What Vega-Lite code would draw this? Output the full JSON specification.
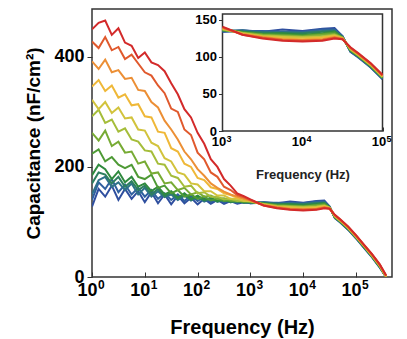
{
"$schema":"https://vega.github.io/schema/vega-lite/v6.json",
"width":300,"height":268,
"autosize":{"type":"none"},
"padding":{"left":92,"top":9,"right":15,"bottom":62},
"background":"white",
"config":{"view":{"stroke":"#333","strokeWidth":1.5},"font":"Liberation Sans","axis":{"labelFont":"Liberation Sans","titleFont":"Liberation Sans"}},
"datasets":{"d":[
{"s":"s00","f":1,"c":128},{"s":"s00","f":1.334,"c":160},{"s":"s00","f":1.778,"c":146},{"s":"s00","f":2.371,"c":166},{"s":"s00","f":3.162,"c":140},{"s":"s00","f":4.217,"c":160},{"s":"s00","f":5.623,"c":142},{"s":"s00","f":7.499,"c":156},{"s":"s00","f":10,"c":136},{"s":"s00","f":13.34,"c":154},{"s":"s00","f":17.78,"c":134},{"s":"s00","f":23.71,"c":150},{"s":"s00","f":31.62,"c":132},{"s":"s00","f":42.17,"c":148},{"s":"s00","f":56.23,"c":134},{"s":"s00","f":74.99,"c":144},{"s":"s00","f":100,"c":132},{"s":"s00","f":133.4,"c":142},{"s":"s00","f":177.8,"c":133},{"s":"s00","f":237.1,"c":140},{"s":"s00","f":316.2,"c":133},{"s":"s00","f":421.7,"c":138},{"s":"s00","f":562.3,"c":133},{"s":"s00","f":749.9,"c":136},{"s":"s00","f":1000,"c":134},{"s":"s00","f":1778,"c":136},{"s":"s00","f":3162,"c":134},{"s":"s00","f":5623,"c":137},{"s":"s00","f":10000,"c":135},{"s":"s00","f":17783,"c":138},{"s":"s00","f":25119,"c":139},{"s":"s00","f":31623,"c":128},{"s":"s00","f":39811,"c":107},{"s":"s00","f":50119,"c":99},{"s":"s00","f":70795,"c":86},{"s":"s00","f":100000,"c":70},{"s":"s00","f":141254,"c":53},{"s":"s00","f":199526,"c":36},{"s":"s00","f":281838,"c":17},{"s":"s00","f":371535,"c":0},
{"s":"s01","f":1,"c":140},{"s":"s01","f":1.334,"c":172},{"s":"s01","f":1.778,"c":160},{"s":"s01","f":2.371,"c":178},{"s":"s01","f":3.162,"c":154},{"s":"s01","f":4.217,"c":168},{"s":"s01","f":5.623,"c":150},{"s":"s01","f":7.499,"c":162},{"s":"s01","f":10,"c":146},{"s":"s01","f":13.34,"c":158},{"s":"s01","f":17.78,"c":142},{"s":"s01","f":23.71,"c":152},{"s":"s01","f":31.62,"c":140},{"s":"s01","f":42.17,"c":150},{"s":"s01","f":56.23,"c":138},{"s":"s01","f":74.99,"c":148},{"s":"s01","f":100,"c":138},{"s":"s01","f":133.4,"c":146},{"s":"s01","f":177.8,"c":136},{"s":"s01","f":237.1,"c":143},{"s":"s01","f":316.2,"c":135},{"s":"s01","f":421.7,"c":141},{"s":"s01","f":562.3,"c":134},{"s":"s01","f":749.9,"c":139},{"s":"s01","f":1000,"c":134},{"s":"s01","f":1778,"c":135},{"s":"s01","f":3162,"c":135},{"s":"s01","f":5623,"c":134},{"s":"s01","f":10000,"c":134},{"s":"s01","f":17783,"c":137},{"s":"s01","f":25119,"c":137},{"s":"s01","f":31623,"c":128},{"s":"s01","f":39811,"c":107},{"s":"s01","f":50119,"c":100},{"s":"s01","f":70795,"c":86},{"s":"s01","f":100000,"c":71},{"s":"s01","f":141254,"c":54},{"s":"s01","f":199526,"c":37},{"s":"s01","f":281838,"c":18},{"s":"s01","f":371535,"c":0},
{"s":"s02","f":1,"c":150},{"s":"s02","f":1.334,"c":176},{"s":"s02","f":1.778,"c":182},{"s":"s02","f":2.371,"c":164},{"s":"s02","f":3.162,"c":172},{"s":"s02","f":4.217,"c":158},{"s":"s02","f":5.623,"c":170},{"s":"s02","f":7.499,"c":150},{"s":"s02","f":10,"c":162},{"s":"s02","f":13.34,"c":146},{"s":"s02","f":17.78,"c":156},{"s":"s02","f":23.71,"c":145},{"s":"s02","f":31.62,"c":150},{"s":"s02","f":42.17,"c":140},{"s":"s02","f":56.23,"c":148},{"s":"s02","f":74.99,"c":139},{"s":"s02","f":100,"c":145},{"s":"s02","f":133.4,"c":137},{"s":"s02","f":177.8,"c":142},{"s":"s02","f":237.1,"c":137},{"s":"s02","f":316.2,"c":140},{"s":"s02","f":421.7,"c":136},{"s":"s02","f":562.3,"c":138},{"s":"s02","f":749.9,"c":135},{"s":"s02","f":1000,"c":135},{"s":"s02","f":1778,"c":136},{"s":"s02","f":3162,"c":133},{"s":"s02","f":5623,"c":134},{"s":"s02","f":10000,"c":133},{"s":"s02","f":17783,"c":135},{"s":"s02","f":25119,"c":136},{"s":"s02","f":31623,"c":127},{"s":"s02","f":39811,"c":108},{"s":"s02","f":50119,"c":100},{"s":"s02","f":70795,"c":87},{"s":"s02","f":100000,"c":71},{"s":"s02","f":141254,"c":54},{"s":"s02","f":199526,"c":37},{"s":"s02","f":281838,"c":18},{"s":"s02","f":371535,"c":0},
{"s":"s03","f":1,"c":170},{"s":"s03","f":1.334,"c":190},{"s":"s03","f":1.778,"c":186},{"s":"s03","f":2.371,"c":170},{"s":"s03","f":3.162,"c":182},{"s":"s03","f":4.217,"c":164},{"s":"s03","f":5.623,"c":174},{"s":"s03","f":7.499,"c":158},{"s":"s03","f":10,"c":166},{"s":"s03","f":13.34,"c":150},{"s":"s03","f":17.78,"c":160},{"s":"s03","f":23.71,"c":146},{"s":"s03","f":31.62,"c":154},{"s":"s03","f":42.17,"c":142},{"s":"s03","f":56.23,"c":150},{"s":"s03","f":74.99,"c":140},{"s":"s03","f":100,"c":147},{"s":"s03","f":133.4,"c":139},{"s":"s03","f":177.8,"c":143},{"s":"s03","f":237.1,"c":137},{"s":"s03","f":316.2,"c":141},{"s":"s03","f":421.7,"c":136},{"s":"s03","f":562.3,"c":138},{"s":"s03","f":749.9,"c":135},{"s":"s03","f":1000,"c":137},{"s":"s03","f":1778,"c":134},{"s":"s03","f":3162,"c":133},{"s":"s03","f":5623,"c":132},{"s":"s03","f":10000,"c":132},{"s":"s03","f":17783,"c":134},{"s":"s03","f":25119,"c":135},{"s":"s03","f":31623,"c":127},{"s":"s03","f":39811,"c":108},{"s":"s03","f":50119,"c":101},{"s":"s03","f":70795,"c":87},{"s":"s03","f":100000,"c":72},{"s":"s03","f":141254,"c":55},{"s":"s03","f":199526,"c":38},{"s":"s03","f":281838,"c":19},{"s":"s03","f":371535,"c":0},
{"s":"s04","f":1,"c":185},{"s":"s04","f":1.334,"c":204},{"s":"s04","f":1.778,"c":196},{"s":"s04","f":2.371,"c":178},{"s":"s04","f":3.162,"c":192},{"s":"s04","f":4.217,"c":172},{"s":"s04","f":5.623,"c":182},{"s":"s04","f":7.499,"c":164},{"s":"s04","f":10,"c":170},{"s":"s04","f":13.34,"c":156},{"s":"s04","f":17.78,"c":164},{"s":"s04","f":23.71,"c":150},{"s":"s04","f":31.62,"c":156},{"s":"s04","f":42.17,"c":144},{"s":"s04","f":56.23,"c":152},{"s":"s04","f":74.99,"c":142},{"s":"s04","f":100,"c":148},{"s":"s04","f":133.4,"c":140},{"s":"s04","f":177.8,"c":144},{"s":"s04","f":237.1,"c":138},{"s":"s04","f":316.2,"c":141},{"s":"s04","f":421.7,"c":137},{"s":"s04","f":562.3,"c":138},{"s":"s04","f":749.9,"c":136},{"s":"s04","f":1000,"c":136},{"s":"s04","f":1778,"c":134},{"s":"s04","f":3162,"c":131},{"s":"s04","f":5623,"c":132},{"s":"s04","f":10000,"c":130},{"s":"s04","f":17783,"c":132},{"s":"s04","f":25119,"c":134},{"s":"s04","f":31623,"c":126},{"s":"s04","f":39811,"c":109},{"s":"s04","f":50119,"c":101},{"s":"s04","f":70795,"c":88},{"s":"s04","f":100000,"c":72},{"s":"s04","f":141254,"c":55},{"s":"s04","f":199526,"c":38},{"s":"s04","f":281838,"c":19},{"s":"s04","f":371535,"c":0},
{"s":"s05","f":1,"c":224},{"s":"s05","f":1.334,"c":232},{"s":"s05","f":1.778,"c":210},{"s":"s05","f":2.371,"c":218},{"s":"s05","f":3.162,"c":204},{"s":"s05","f":4.217,"c":198},{"s":"s05","f":5.623,"c":204},{"s":"s05","f":7.499,"c":182},{"s":"s05","f":10,"c":178},{"s":"s05","f":13.34,"c":186},{"s":"s05","f":17.78,"c":162},{"s":"s05","f":23.71,"c":166},{"s":"s05","f":31.62,"c":152},{"s":"s05","f":42.17,"c":158},{"s":"s05","f":56.23,"c":146},{"s":"s05","f":74.99,"c":150},{"s":"s05","f":100,"c":142},{"s":"s05","f":133.4,"c":146},{"s":"s05","f":177.8,"c":139},{"s":"s05","f":237.1,"c":142},{"s":"s05","f":316.2,"c":138},{"s":"s05","f":421.7,"c":139},{"s":"s05","f":562.3,"c":137},{"s":"s05","f":749.9,"c":138},{"s":"s05","f":1000,"c":136},{"s":"s05","f":1778,"c":133},{"s":"s05","f":3162,"c":131},{"s":"s05","f":5623,"c":130},{"s":"s05","f":10000,"c":129},{"s":"s05","f":17783,"c":131},{"s":"s05","f":25119,"c":133},{"s":"s05","f":31623,"c":126},{"s":"s05","f":39811,"c":109},{"s":"s05","f":50119,"c":101},{"s":"s05","f":70795,"c":88},{"s":"s05","f":100000,"c":72},{"s":"s05","f":141254,"c":56},{"s":"s05","f":199526,"c":38},{"s":"s05","f":281838,"c":19},{"s":"s05","f":371535,"c":0},
{"s":"s06","f":1,"c":262},{"s":"s06","f":1.334,"c":248},{"s":"s06","f":1.778,"c":266},{"s":"s06","f":2.371,"c":238},{"s":"s06","f":3.162,"c":246},{"s":"s06","f":4.217,"c":226},{"s":"s06","f":5.623,"c":228},{"s":"s06","f":7.499,"c":206},{"s":"s06","f":10,"c":210},{"s":"s06","f":13.34,"c":188},{"s":"s06","f":17.78,"c":190},{"s":"s06","f":23.71,"c":170},{"s":"s06","f":31.62,"c":172},{"s":"s06","f":42.17,"c":158},{"s":"s06","f":56.23,"c":162},{"s":"s06","f":74.99,"c":150},{"s":"s06","f":100,"c":154},{"s":"s06","f":133.4,"c":146},{"s":"s06","f":177.8,"c":148},{"s":"s06","f":237.1,"c":142},{"s":"s06","f":316.2,"c":143},{"s":"s06","f":421.7,"c":139},{"s":"s06","f":562.3,"c":139},{"s":"s06","f":749.9,"c":137},{"s":"s06","f":1000,"c":137},{"s":"s06","f":1778,"c":133},{"s":"s06","f":3162,"c":130},{"s":"s06","f":5623,"c":129},{"s":"s06","f":10000,"c":128},{"s":"s06","f":17783,"c":130},{"s":"s06","f":25119,"c":131},{"s":"s06","f":31623,"c":126},{"s":"s06","f":39811,"c":110},{"s":"s06","f":50119,"c":102},{"s":"s06","f":70795,"c":89},{"s":"s06","f":100000,"c":73},{"s":"s06","f":141254,"c":56},{"s":"s06","f":199526,"c":39},{"s":"s06","f":281838,"c":20},{"s":"s06","f":371535,"c":0},
{"s":"s07","f":1,"c":292},{"s":"s07","f":1.334,"c":304},{"s":"s07","f":1.778,"c":280},{"s":"s07","f":2.371,"c":286},{"s":"s07","f":3.162,"c":264},{"s":"s07","f":4.217,"c":270},{"s":"s07","f":5.623,"c":250},{"s":"s07","f":7.499,"c":246},{"s":"s07","f":10,"c":230},{"s":"s07","f":13.34,"c":228},{"s":"s07","f":17.78,"c":206},{"s":"s07","f":23.71,"c":204},{"s":"s07","f":31.62,"c":184},{"s":"s07","f":42.17,"c":180},{"s":"s07","f":56.23,"c":164},{"s":"s07","f":74.99,"c":166},{"s":"s07","f":100,"c":152},{"s":"s07","f":133.4,"c":154},{"s":"s07","f":177.8,"c":146},{"s":"s07","f":237.1,"c":146},{"s":"s07","f":316.2,"c":141},{"s":"s07","f":421.7,"c":142},{"s":"s07","f":562.3,"c":138},{"s":"s07","f":749.9,"c":139},{"s":"s07","f":1000,"c":137},{"s":"s07","f":1778,"c":132},{"s":"s07","f":3162,"c":129},{"s":"s07","f":5623,"c":128},{"s":"s07","f":10000,"c":127},{"s":"s07","f":17783,"c":128},{"s":"s07","f":25119,"c":130},{"s":"s07","f":31623,"c":126},{"s":"s07","f":39811,"c":110},{"s":"s07","f":50119,"c":102},{"s":"s07","f":70795,"c":89},{"s":"s07","f":100000,"c":73},{"s":"s07","f":141254,"c":57},{"s":"s07","f":199526,"c":39},{"s":"s07","f":281838,"c":20},{"s":"s07","f":371535,"c":0},
{"s":"s08","f":1,"c":322},{"s":"s08","f":1.334,"c":305},{"s":"s08","f":1.778,"c":318},{"s":"s08","f":2.371,"c":298},{"s":"s08","f":3.162,"c":308},{"s":"s08","f":4.217,"c":288},{"s":"s08","f":5.623,"c":290},{"s":"s08","f":7.499,"c":268},{"s":"s08","f":10,"c":266},{"s":"s08","f":13.34,"c":244},{"s":"s08","f":17.78,"c":238},{"s":"s08","f":23.71,"c":216},{"s":"s08","f":31.62,"c":210},{"s":"s08","f":42.17,"c":190},{"s":"s08","f":56.23,"c":186},{"s":"s08","f":74.99,"c":170},{"s":"s08","f":100,"c":168},{"s":"s08","f":133.4,"c":156},{"s":"s08","f":177.8,"c":156},{"s":"s08","f":237.1,"c":148},{"s":"s08","f":316.2,"c":148},{"s":"s08","f":421.7,"c":142},{"s":"s08","f":562.3,"c":142},{"s":"s08","f":749.9,"c":138},{"s":"s08","f":1000,"c":138},{"s":"s08","f":1778,"c":132},{"s":"s08","f":3162,"c":128},{"s":"s08","f":5623,"c":127},{"s":"s08","f":10000,"c":126},{"s":"s08","f":17783,"c":127},{"s":"s08","f":25119,"c":129},{"s":"s08","f":31623,"c":125},{"s":"s08","f":39811,"c":111},{"s":"s08","f":50119,"c":103},{"s":"s08","f":70795,"c":90},{"s":"s08","f":100000,"c":74},{"s":"s08","f":141254,"c":57},{"s":"s08","f":199526,"c":40},{"s":"s08","f":281838,"c":21},{"s":"s08","f":371535,"c":1},
{"s":"s09","f":1,"c":346},{"s":"s09","f":1.334,"c":358},{"s":"s09","f":1.778,"c":338},{"s":"s09","f":2.371,"c":348},{"s":"s09","f":3.162,"c":326},{"s":"s09","f":4.217,"c":332},{"s":"s09","f":5.623,"c":312},{"s":"s09","f":7.499,"c":314},{"s":"s09","f":10,"c":292},{"s":"s09","f":13.34,"c":290},{"s":"s09","f":17.78,"c":264},{"s":"s09","f":23.71,"c":262},{"s":"s09","f":31.62,"c":234},{"s":"s09","f":42.17,"c":228},{"s":"s09","f":56.23,"c":206},{"s":"s09","f":74.99,"c":200},{"s":"s09","f":100,"c":180},{"s":"s09","f":133.4,"c":176},{"s":"s09","f":177.8,"c":163},{"s":"s09","f":237.1,"c":160},{"s":"s09","f":316.2,"c":152},{"s":"s09","f":421.7,"c":149},{"s":"s09","f":562.3,"c":144},{"s":"s09","f":749.9,"c":142},{"s":"s09","f":1000,"c":139},{"s":"s09","f":1778,"c":131},{"s":"s09","f":3162,"c":127},{"s":"s09","f":5623,"c":125},{"s":"s09","f":10000,"c":124},{"s":"s09","f":17783,"c":126},{"s":"s09","f":25119,"c":128},{"s":"s09","f":31623,"c":125},{"s":"s09","f":39811,"c":111},{"s":"s09","f":50119,"c":103},{"s":"s09","f":70795,"c":90},{"s":"s09","f":100000,"c":74},{"s":"s09","f":141254,"c":57},{"s":"s09","f":199526,"c":40},{"s":"s09","f":281838,"c":21},{"s":"s09","f":371535,"c":1},
{"s":"s10","f":1,"c":392},{"s":"s10","f":1.334,"c":378},{"s":"s10","f":1.778,"c":395},{"s":"s10","f":2.371,"c":372},{"s":"s10","f":3.162,"c":376},{"s":"s10","f":4.217,"c":360},{"s":"s10","f":5.623,"c":362},{"s":"s10","f":7.499,"c":340},{"s":"s10","f":10,"c":338},{"s":"s10","f":13.34,"c":318},{"s":"s10","f":17.78,"c":308},{"s":"s10","f":23.71,"c":284},{"s":"s10","f":31.62,"c":268},{"s":"s10","f":42.17,"c":250},{"s":"s10","f":56.23,"c":228},{"s":"s10","f":74.99,"c":214},{"s":"s10","f":100,"c":196},{"s":"s10","f":133.4,"c":184},{"s":"s10","f":177.8,"c":170},{"s":"s10","f":237.1,"c":162},{"s":"s10","f":316.2,"c":155},{"s":"s10","f":421.7,"c":150},{"s":"s10","f":562.3,"c":146},{"s":"s10","f":749.9,"c":142},{"s":"s10","f":1000,"c":139},{"s":"s10","f":1778,"c":131},{"s":"s10","f":3162,"c":127},{"s":"s10","f":5623,"c":124},{"s":"s10","f":10000,"c":123},{"s":"s10","f":17783,"c":124},{"s":"s10","f":25119,"c":127},{"s":"s10","f":31623,"c":125},{"s":"s10","f":39811,"c":112},{"s":"s10","f":50119,"c":104},{"s":"s10","f":70795,"c":91},{"s":"s10","f":100000,"c":75},{"s":"s10","f":141254,"c":58},{"s":"s10","f":199526,"c":41},{"s":"s10","f":281838,"c":22},{"s":"s10","f":371535,"c":2},
{"s":"s11","f":1,"c":428},{"s":"s11","f":1.334,"c":416},{"s":"s11","f":1.778,"c":436},{"s":"s11","f":2.371,"c":412},{"s":"s11","f":3.162,"c":418},{"s":"s11","f":4.217,"c":396},{"s":"s11","f":5.623,"c":404},{"s":"s11","f":7.499,"c":388},{"s":"s11","f":10,"c":372},{"s":"s11","f":13.34,"c":366},{"s":"s11","f":17.78,"c":348},{"s":"s11","f":23.71,"c":334},{"s":"s11","f":31.62,"c":306},{"s":"s11","f":42.17,"c":300},{"s":"s11","f":56.23,"c":268},{"s":"s11","f":74.99,"c":258},{"s":"s11","f":100,"c":226},{"s":"s11","f":133.4,"c":214},{"s":"s11","f":177.8,"c":190},{"s":"s11","f":237.1,"c":182},{"s":"s11","f":316.2,"c":164},{"s":"s11","f":421.7,"c":158},{"s":"s11","f":562.3,"c":149},{"s":"s11","f":749.9,"c":145},{"s":"s11","f":1000,"c":140},{"s":"s11","f":1778,"c":130},{"s":"s11","f":3162,"c":126},{"s":"s11","f":5623,"c":123},{"s":"s11","f":10000,"c":122},{"s":"s11","f":17783,"c":123},{"s":"s11","f":25119,"c":126},{"s":"s11","f":31623,"c":124},{"s":"s11","f":39811,"c":112},{"s":"s11","f":50119,"c":104},{"s":"s11","f":70795,"c":91},{"s":"s11","f":100000,"c":75},{"s":"s11","f":141254,"c":58},{"s":"s11","f":199526,"c":41},{"s":"s11","f":281838,"c":22},{"s":"s11","f":371535,"c":2},
{"s":"s12","f":1,"c":450},{"s":"s12","f":1.334,"c":462},{"s":"s12","f":1.778,"c":466},{"s":"s12","f":2.371,"c":440},{"s":"s12","f":3.162,"c":452},{"s":"s12","f":4.217,"c":426},{"s":"s12","f":5.623,"c":420},{"s":"s12","f":7.499,"c":398},{"s":"s12","f":10,"c":408},{"s":"s12","f":13.34,"c":390},{"s":"s12","f":17.78,"c":385},{"s":"s12","f":23.71,"c":374},{"s":"s12","f":31.62,"c":352},{"s":"s12","f":42.17,"c":332},{"s":"s12","f":56.23,"c":305},{"s":"s12","f":74.99,"c":290},{"s":"s12","f":100,"c":262},{"s":"s12","f":133.4,"c":242},{"s":"s12","f":177.8,"c":214},{"s":"s12","f":237.1,"c":200},{"s":"s12","f":316.2,"c":178},{"s":"s12","f":421.7,"c":166},{"s":"s12","f":562.3,"c":152},{"s":"s12","f":749.9,"c":147},{"s":"s12","f":1000,"c":141},{"s":"s12","f":1778,"c":130},{"s":"s12","f":3162,"c":125},{"s":"s12","f":5623,"c":122},{"s":"s12","f":10000,"c":121},{"s":"s12","f":17783,"c":122},{"s":"s12","f":25119,"c":125},{"s":"s12","f":31623,"c":124},{"s":"s12","f":39811,"c":113},{"s":"s12","f":50119,"c":105},{"s":"s12","f":70795,"c":92},{"s":"s12","f":100000,"c":76},{"s":"s12","f":141254,"c":59},{"s":"s12","f":199526,"c":42},{"s":"s12","f":281838,"c":23},{"s":"s12","f":371535,"c":3}
],
"box":[{"x1":1000,"x2":100000,"y1":0,"y2":158}],
"ex":[{"t":1,"e":"0"},{"t":10,"e":"1"},{"t":100,"e":"2"},{"t":1000,"e":"3"},{"t":10000,"e":"4"},{"t":100000,"e":"5"}],
"exi":[{"t":1000,"e":"3"},{"t":10000,"e":"4"},{"t":100000,"e":"5"}]},
"layer":[
{"layer":[
 {"data":{"name":"d"},
  "mark":{"type":"line","strokeWidth":2,"clip":true},
  "encoding":{
   "x":{"field":"f","type":"quantitative","scale":{"type":"log","domain":[1,480000],"nice":false},
    "axis":{"values":[1,10,100,1000,10000,100000],"labelExpr":"'10'","labelOffset":-5,"title":"Frequency (Hz)","grid":false,"domain":false,"tickSize":-5,"tickColor":"#333","labelFontSize":18,"labelFontWeight":"bold","labelPadding":9,"labelColor":"black","labelFlush":false,"labelOverlap":false,"titleFontSize":20,"titleFontWeight":"bold","titlePadding":18,"titleColor":"black"}},
   "y":{"field":"c","type":"quantitative","scale":{"domain":[0,487],"nice":false},
    "axis":{"values":[0,200,400],"title":"Capacitance (nF/cm²)","grid":false,"domain":false,"tickSize":5,"tickColor":"#333","labelFontSize":18,"labelFontWeight":"bold","labelPadding":3,"labelColor":"black","labelOverlap":false,"titleFontSize":19,"titleFontWeight":"bold","titlePadding":10,"titleColor":"black"}},
   "color":{"field":"s","type":"nominal","legend":null,"scale":{"domain":["s00","s01","s02","s03","s04","s05","s06","s07","s08","s09","s10","s11","s12"],"range":["#2f4f9f","#2f5fa0","#2e7189","#2d7f5f","#2f8a3e","#4e9a35","#77ab34","#a5bd3a","#d2c33c","#efb838","#ec8f35","#e0592d","#d32a2a"]}}
  }},
 {"data":{"name":"ex"},
  "mark":{"type":"text","fontSize":12,"fontWeight":"bold","align":"left","baseline":"top","dx":6,"dy":3,"color":"black","font":"Liberation Sans"},
  "encoding":{
   "x":{"field":"t","type":"quantitative"},
   "y":{"datum":0,"type":"quantitative"},
   "text":{"field":"e"}
  }}
]},
{"layer":[
 {"data":{"name":"box"},
  "mark":{"type":"rect","fill":"white","stroke":"#333","strokeWidth":1.5},
  "encoding":{
   "x":{"field":"x1","type":"quantitative","scale":{"type":"log","domain":[1000,100000],"range":[130.5,290.5],"nice":false},
    "axis":{"values":[1000,10000,100000],"orient":"bottom","offset":-146,"labelExpr":"'10'","labelOffset":-4,"title":"Frequency (Hz)","grid":false,"domain":false,"tickSize":-4,"tickColor":"#333","labelFontSize":13,"labelFontWeight":"bold","labelPadding":8,"labelColor":"black","labelFlush":false,"labelOverlap":false,"titleFontSize":13,"titleFontWeight":"bold","titlePadding":20,"titleColor":"#222"}},
   "x2":{"field":"x2"},
   "y":{"field":"y1","type":"quantitative","scale":{"domain":[0,158],"range":[122,5],"nice":false,"zero":false},
    "axis":{"values":[0,50,100,150],"orient":"left","offset":-130.5,"title":null,"grid":false,"domain":false,"tickSize":4,"tickColor":"#333","labelFontSize":13,"labelFontWeight":"bold","labelPadding":2,"labelColor":"black","labelOverlap":false}},
   "y2":{"field":"y2"}
  }},
 {"data":{"name":"d"},
  "transform":[{"filter":{"field":"f","range":[1000,100000]}}],
  "mark":{"type":"line","strokeWidth":2},
  "encoding":{
   "x":{"field":"f","type":"quantitative"},
   "y":{"field":"c","type":"quantitative"},
   "color":{"field":"s","type":"nominal","legend":null}
  }},
 {"data":{"name":"exi"},
  "mark":{"type":"text","fontSize":9,"fontWeight":"bold","align":"left","baseline":"top","dx":4,"dy":4,"color":"black","font":"Liberation Sans"},
  "encoding":{
   "x":{"field":"t","type":"quantitative"},
   "y":{"datum":0,"type":"quantitative"},
   "text":{"field":"e"}
  }}
]}
],
"resolve":{"scale":{"x":"independent","y":"independent","color":"shared"},"axis":{"x":"independent","y":"independent"}}
}
